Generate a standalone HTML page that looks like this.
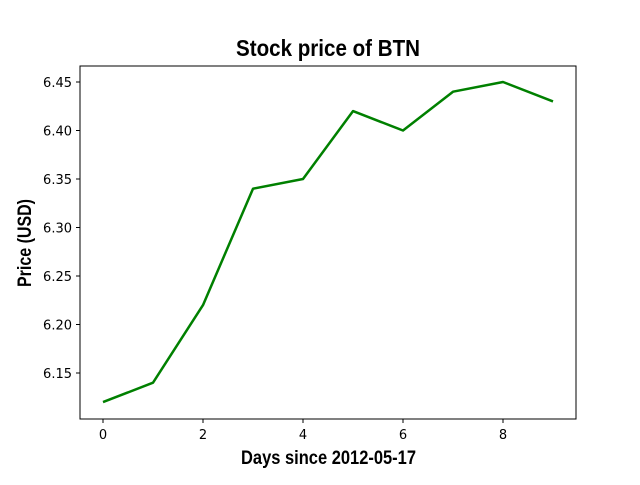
<!DOCTYPE html>
<html><head><meta charset="utf-8"><style>
body{margin:0;background:#fff;}
svg text{font-family:"DejaVu Sans","Liberation Sans",sans-serif;}
.t{font-family:"Liberation Sans",sans-serif;font-weight:bold;}
</style></head><body>
<svg id="c" width="640" height="480">
<rect x="0" y="0" width="640" height="480" fill="#fff"/>
<text class="t" x="236" y="56" font-size="23" textLength="184" lengthAdjust="spacingAndGlyphs">Stock price of BTN</text>
<text class="t" x="241" y="464" font-size="19" textLength="175" lengthAdjust="spacingAndGlyphs">Days since 2012-05-17</text>
<text class="t" x="0" y="0" font-size="19" textLength="88" lengthAdjust="spacingAndGlyphs" transform="translate(31,287) rotate(-90)">Price (USD)</text>
<g id="ticks"></g>
<polyline id="line" fill="none" stroke="#008000" stroke-width="2.5" stroke-linejoin="round"/>
<rect x="80" y="66" width="496" height="353" fill="none" stroke="#000" stroke-width="1"/>
</svg>
<script>
const days=[0,1,2,3,4,5,6,7,8,9];
const prices=[6.12,6.14,6.22,6.34,6.35,6.42,6.40,6.44,6.45,6.43];
const xTicks=[0,2,4,6,8];
const yTicks=[6.15,6.20,6.25,6.30,6.35,6.40,6.45];
function X(v){return 103+v*50;}
function Y(v){return 373-(v-6.15)*970;}
const ns="http://www.w3.org/2000/svg";
const g=document.getElementById('ticks');
xTicks.forEach(t=>{
 const l=document.createElementNS(ns,'line');
 l.setAttribute('x1',X(t));l.setAttribute('x2',X(t));l.setAttribute('y1',419);l.setAttribute('y2',423);l.setAttribute('stroke','#000');
 
 
 g.appendChild(l);
 const tx=document.createElementNS(ns,'text');
 tx.setAttribute('x',X(t));tx.setAttribute('y',439);tx.setAttribute('font-size','13');tx.setAttribute('text-anchor','middle');
 tx.textContent=t;
 
 
 g.appendChild(tx);
});
yTicks.forEach(t=>{
 const l=document.createElementNS(ns,'line');
 l.setAttribute('x1',76);l.setAttribute('x2',80);l.setAttribute('y1',Y(t));l.setAttribute('y2',Y(t));l.setAttribute('stroke','#000');
 
 
 g.appendChild(l);
 const tx=document.createElementNS(ns,'text');
 tx.setAttribute('x',72);tx.setAttribute('y',Y(t)+5);tx.setAttribute('font-size','13');tx.setAttribute('text-anchor','end');
 tx.textContent=t.toFixed(2);
 
 
 g.appendChild(tx);
});
document.getElementById('line').setAttribute('points',days.map((d,i)=>X(d)+','+Y(prices[i])).join(' '));
</script>
</body></html>
